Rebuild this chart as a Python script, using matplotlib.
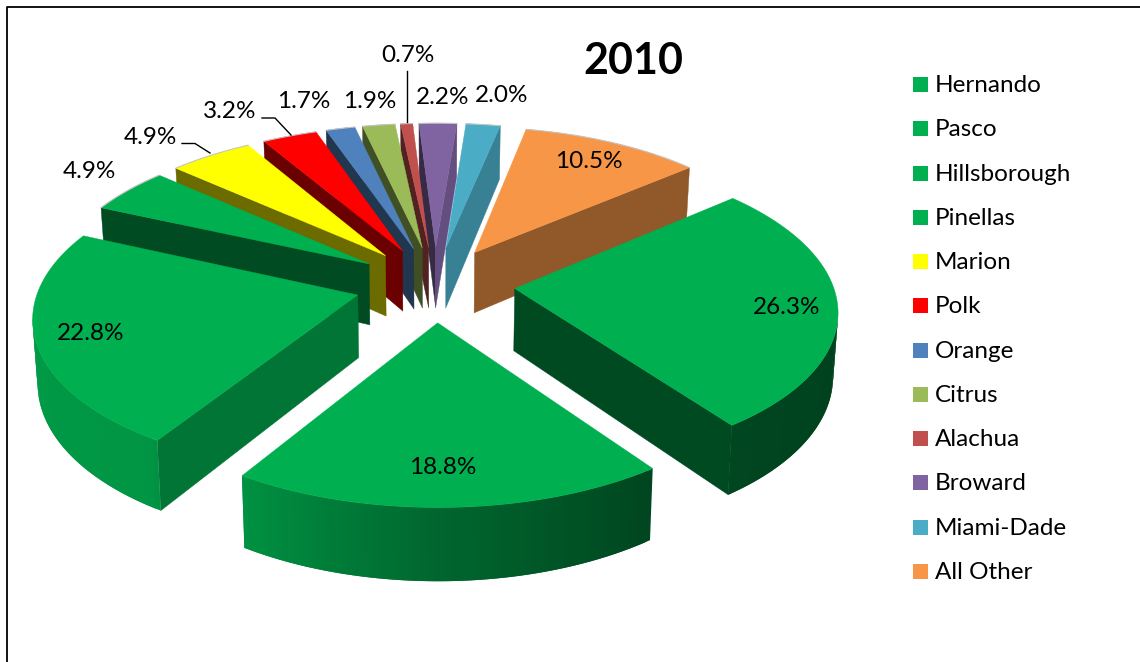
import numpy as np
import matplotlib
matplotlib.use('Agg')
import matplotlib.pyplot as plt
from matplotlib.collections import PolyCollection
from matplotlib.colors import to_rgb

plt.rcParams['font.family'] = ['Lato', 'DejaVu Sans']

counties = ['Hernando', 'Pasco', 'Hillsborough', 'Pinellas', 'Marion', 'Polk',
            'Orange', 'Citrus', 'Alachua', 'Broward', 'Miami-Dade', 'All Other']
shares = [26.3, 18.8, 22.8, 4.9, 4.9, 3.2, 1.7, 1.9, 0.7, 2.2, 2.0, 10.5]
colors = ['#00B050', '#00B050', '#00B050', '#00B050', '#FFFF00', '#FF0000',
          '#4F81BD', '#9BBB59', '#C0504D', '#8064A2', '#4BACC6', '#F79646']

# label centres in pixels
label_x = [787, 443, 91, 89, 150, 230, 304, 370, 408, 443, 502, 589]
label_y = [308, 468, 334, 171, 137, 111, 101, 102, 56, 97, 96, 161]

# pie geometry, pixels
cx, cy = 435, 284
k = 0.47          # squash of the pie plane
persp_x = 0.00040
persp_y = 0.00041
lean = 0.0002     # walls narrow slightly towards the bottom
radius = 318
explode = 80
height = 62
first_angle = 49.5


def project(X, Y, z=0.0):
    sx = 1 / (1 + persp_x * Y)
    sy = 1 / (1 + persp_y * Y)
    return cx + X * sx * (1 - lean * z), cy - k * Y * sy + z * sx


def shade(col, f):
    return tuple(c * f for c in to_rgb(col))


def wall_factor(theta):
    return np.interp(theta % 360, [0, 90, 146, 180, 215, 250, 300, 360],
                     [0.8, 0.36, 0.40, 0.58, 0.85, 0.87, 0.85, 0.8])


def face_factor(normal):
    return np.interp(normal % 360, [0, 90, 125, 141, 206, 360],
                     [0.8, 0.8, 0.65, 0.58, 0.42, 0.42])


def area(pts):
    x, y = np.array(pts).T
    return 0.5 * np.sum(x * np.roll(y, -1) - np.roll(x, -1) * y)


fig = plt.figure(figsize=(11.4, 6.62), dpi=100)
ax = fig.add_axes([0, 0, 1, 1])
ax.set_xlim(0, 1140)
ax.set_ylim(662, 0)
ax.axis('off')

# outer frame, open at the bottom and right
ax.plot([6.5, 6.5, 1140], [662, 7, 7], color='black', lw=1.3)

sweeps = np.array(shares) / sum(shares) * 360
starts = first_angle + np.concatenate([[0], np.cumsum(sweeps)[:-1]])

# rear slices first, front ones paint over them
order = np.argsort(-np.cos(np.radians(starts + sweeps / 2)))

for i in order:
    a0, sw, col = starts[i], sweeps[i], colors[i]
    mid = np.radians(a0 + sw / 2)
    ox, oy = explode * np.sin(mid), explode * np.cos(mid)
    th = np.linspace(a0, a0 + sw, max(int(sw / 1.0), 3) + 1)
    X = ox + radius * np.sin(np.radians(th))
    Y = oy + radius * np.cos(np.radians(th))

    tip_t = project(ox, oy)
    tip_b = project(ox, oy, height)
    rim_t = np.column_stack(project(X, Y))
    rim_b = np.column_stack(project(X, Y, height))

    # straight cut faces, only the ones turned towards the viewer
    for rim, sign, nrm in [(0, -1, a0 - 90), (-1, 1, a0 + sw + 90)]:
        quad = [tip_t, rim_t[rim], rim_b[rim], tip_b]
        if area(quad) * sign > 0:
            ax.fill(*zip(*quad), color=shade(col, face_factor(nrm)), lw=0.3)

    # curved outer wall, facets overlap by one step to hide seams
    facets, fcols = [], []
    n = len(th)
    for j in range(n - 1):
        if rim_t[j + 1][0] < rim_t[j][0]:
            e = min(j + 2, n - 1)
            facets.append([rim_t[j], rim_t[e], rim_b[e], rim_b[j]])
            fcols.append(shade(col, wall_factor((th[j] + th[j + 1]) / 2)))
    if facets:
        ax.add_collection(PolyCollection(facets, facecolors=fcols, edgecolors='none'))

    top = np.vstack([tip_t, rim_t])
    ax.fill(top[:, 0], top[:, 1], color=col, lw=0.3)
    if np.cos(mid) > 0:
        ax.plot(rim_t[:, 0], rim_t[:, 1], color='#c4c4c4', lw=0.8)

# leader lines of the small slices
ax.plot([182, 195, 210], [143.5, 143.5, 153], color='black', lw=1)
ax.plot([262, 275, 291], [118, 118, 135], color='black', lw=1)
ax.plot([407, 407], [71, 122], color='black', lw=1)

for name, share, x, y in zip(counties, shares, label_x, label_y):
    ax.text(x, y, f'{share:.1f}%', ha='center', va='center', fontsize=17.5, color='black')

ax.text(633, 61, '2010', ha='center', va='center', fontsize=31, fontweight='bold', color='black')

# legend
for i, (name, col) in enumerate(zip(counties, colors)):
    yy = 84.5 + i * 44.27
    ax.fill([913, 928, 928, 913], [yy - 7.5, yy - 7.5, yy + 7.5, yy + 7.5], color=col, lw=0)
    ax.text(935, yy + 1, name, ha='left', va='center', fontsize=17.5, color='black')

fig.savefig('out.png', dpi=100)
